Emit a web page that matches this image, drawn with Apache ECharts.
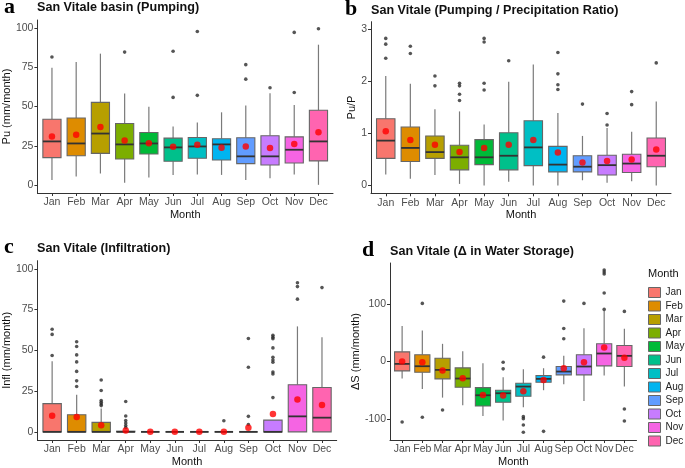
<!DOCTYPE html>
<html>
<head>
<meta charset="utf-8">
<script src="https://cdn.jsdelivr.net/npm/echarts@6/dist/echarts.min.js"></script>
<style>html,body{margin:0;padding:0;background:#fff}#c{width:685px;height:468px}</style>
</head>
<body>
<div id="c"></div>
<script>
const months = ['Jan','Feb','Mar','Apr','May','Jun','Jul','Aug','Sep','Oct','Nov','Dec'];
const palette = ['#F8766D','#DE8C00','#B79F00','#7CAE00','#00BA38','#00C08B','#00BFC4','#00B4F0','#619CFF','#C77CFF','#F564E3','#FF64B0'];

// Panel a: Pumping (mm/month)
const aLow  = [3.2, 5.5, 7.4, 1.5, 4.8, 6.5, 6.7, 6.5, 3.2, 4.4, 6.7, 0.2];
const aQ1   = [17.5, 18.7, 20.2, 16.6, 19.8, 15.2, 17.1, 16.0, 13.7, 12.8, 14.1, 15.4];
const aMed  = [27.8, 26.5, 32.8, 25.9, 26.5, 24.0, 24.6, 25.9, 18.3, 18.3, 22.5, 27.8];
const aQ3   = [41.9, 42.7, 52.6, 39.2, 33.5, 29.9, 30.3, 29.5, 30.1, 31.4, 30.7, 47.6];
const aHigh = [74.7, 78.3, 83.6, 58.3, 49.9, 37.3, 39.8, 46.3, 50.7, 58.5, 50.9, 89.3];
const aMean = [30.9, 32.0, 37.0, 28.4, 26.7, 24.4, 25.7, 23.8, 24.6, 23.6, 26.1, 33.7];
const aOut  = [[0,81.5],[3,84.6],[5,85.1],[5,55.8],[6,97.7],[6,57.1],[8,76.6],[8,67.4],[9,61.9],[10,97.1],[10,58.9],[11,99.4]];

// Panel b: Pumping / Precipitation ratio
const bLow  = [0.21, 0.13, 0.20, 0.03, 0.00, 0.07, 0.00, 0.00, 0.10, 0.05, 0.08, 0.00];
const bQ1   = [0.52, 0.46, 0.52, 0.30, 0.40, 0.30, 0.38, 0.26, 0.26, 0.20, 0.25, 0.36];
const bMed  = [0.86, 0.72, 0.64, 0.54, 0.54, 0.57, 0.73, 0.40, 0.36, 0.39, 0.42, 0.57];
const bQ3   = [1.28, 1.12, 0.95, 0.77, 0.88, 1.01, 1.24, 0.75, 0.57, 0.58, 0.60, 0.91];
const bHigh = [2.10, 1.95, 1.46, 1.42, 1.17, 1.99, 2.32, 1.39, 0.95, 1.10, 1.03, 1.61];
const bMean = [1.04, 0.87, 0.78, 0.64, 0.72, 0.78, 0.87, 0.63, 0.44, 0.47, 0.50, 0.69];
const bOut  = [[0,2.82],[0,2.71],[0,2.44],[1,2.67],[1,2.53],[2,2.10],[2,1.91],[3,1.96],[3,1.91],[3,1.75],[3,1.63],
               [4,2.82],[4,2.75],[4,1.96],[4,1.83],[5,2.39],[7,2.55],[7,2.14],[7,1.93],[7,1.84],[8,1.56],[9,1.38],[9,1.16],
               [10,1.80],[10,1.55],[11,2.35]];

// Panel c: Infiltration (mm/month)
const cLow  = [0, 0, 0, 0, 0, 0, 0, 0, 0, 0, 0, 0];
const cQ1   = [0, 0, 0, 0, 0, 0, 0, 0, 0, 0, 0, 0];
const cMed  = [0, 0, 0, 0, 0, 0, 0, 0, 0, 0, 9.5, 8.7];
const cQ3   = [17.3, 10.5, 5.8, 0.4, 0, 0, 0, 0, 0, 7.2, 28.9, 27.2];
const cHigh = [43.3, 22.7, 14.4, 0.4, 0, 0, 0, 0, 0, 7.2, 64.7, 58.1];
const cMean = [9.9, 9.1, 4.1, 0.8, 0, 0, 0, 0.1, 2.5, 10.9, 19.8, 16.5];
const cOut  = [[0,62.9],[0,59.8],[0,46.8],
               [1,55.3],[1,52.4],[1,47.2],[1,42.9],[1,37.1],[1,31.3],[1,27.8],
               [2,31.8],[2,25.4],[2,19.2],[2,18.1],[2,17.1],[2,16.1],
               [3,18.6],[3,9.7],[3,7.0],[3,5.4],[3,3.9],[3,2.7],
               [7,6.8],[8,57.3],[8,39.6],[8,9.5],[8,4.5],
               [9,59.2],[9,58.1],[9,57.1],[9,51.5],[9,45.8],[9,44.1],[9,42.7],[9,36.7],[9,35.5],[9,21.0],
               [10,91.5],[10,89.1],[10,81.4],[11,88.5]];

// Panel d: change in water storage (mm/month)
const dLow  = [-29.7, -47.8, -63.0, -76.4, -95.0, -103.0, -79.9, -50.1, -39.7, -68.8, -24.5, -43.7];
const dQ1   = [-16.3, -18.7, -30.3, -44.9, -77.6, -71.1, -60.6, -36.2, -23.3, -23.3, -7.6, -8.7];
const dMed  = [-4.1, -8.2, -14.6, -29.7, -58.9, -55.4, -43.7, -30.3, -17.5, -8.7, 14.0, 9.9];
const dQ3   = [16.9, 11.7, 5.8, -11.1, -45.5, -50.1, -37.9, -24.5, -8.7, 11.7, 30.9, 28.0];
const dHigh = [61.8, 54.2, 30.9, 18.1, -2.9, -27.4, -13.4, -11.7, 9.9, 58.3, 88.0, 57.1];
const dMean = [0.0, -1.2, -15.7, -29.2, -58.3, -59.5, -51.9, -32.1, -11.7, -1.2, 24.5, 6.4];
const dOut  = [[0,-105.5],[1,101.5],[1,-97.4],[2,-84.5],[5,-1.2],[5,-12.8],
               [6,-96.2],[6,-99.7],[6,-110.8],[6,-123.6],[7,7.6],[7,-121.9],
               [8,105.5],[8,57.7],[8,39.7],[9,101.5],
               [10,159.8],[10,156.3],[10,152.8],[10,119.5],[10,91.0],
               [11,87.5],[11,-82.8],[11,-103.8]];

const SANS = 'Liberation Sans';
const SERIF = 'Liberation Serif';

function renderBox(params, api) {
  const i = api.value(0);
  const p = v => api.coord([i, v]);
  const bw = api.size([1, 0])[0] * 0.75;
  const lo = p(api.value(1)), q1 = p(api.value(2)), md = p(api.value(3)), q3 = p(api.value(4)), hi = p(api.value(5));
  const cx = lo[0];
  return {
    type: 'group',
    children: [
      {type: 'line', shape: {x1: cx, y1: hi[1], x2: cx, y2: q3[1]}, style: {stroke: '#7a7a7a', lineWidth: 1.2}},
      {type: 'line', shape: {x1: cx, y1: q1[1], x2: cx, y2: lo[1]}, style: {stroke: '#7a7a7a', lineWidth: 1.2}},
      {type: 'rect', shape: {x: cx - bw / 2, y: q3[1], width: bw, height: q1[1] - q3[1]},
       style: {fill: palette[i], stroke: '#666', lineWidth: 1.1}},
      {type: 'line', shape: {x1: cx - bw / 2, y1: md[1], x2: cx + bw / 2, y2: md[1]}, style: {stroke: '#333', lineWidth: 1.8}}
    ]
  };
}

function boxData(lo, q1, md, q3, hi) {
  return months.map((m, i) => [i, lo[i], q1[i], md[i], q3[i], hi[i]]);
}

const grids = [
  {left: 36, top: 20, width: 297, height: 173},
  {left: 371, top: 21.7, width: 300, height: 171.6},
  {left: 36.7, top: 260.7, width: 300, height: 179.3},
  {left: 390, top: 263, width: 246.5, height: 177}
];

const monthIdx = months.map((m, i) => i);
function xAxis(g) {
  return {
    type: 'value', gridIndex: g, min: -0.6, max: 11.6,
    axisLine: {show: true, onZero: false, lineStyle: {color: '#333', width: 1}},
    axisTick: {show: true, length: 3, customValues: monthIdx, lineStyle: {color: '#333'}},
    axisLabel: {customValues: monthIdx, formatter: v => months[Math.round(v)], fontSize: 10.5, color: '#4d4d4d', margin: 4, fontFamily: SANS},
    splitLine: {show: false},
    name: 'Month', nameLocation: 'middle', nameGap: 16,
    nameTextStyle: {fontSize: 11, color: '#111', fontFamily: SANS}
  };
}
function yAxis(g, min, max, ticks, name, gap) {
  return {
    type: 'value', gridIndex: g, min: min, max: max,
    axisLine: {show: true, onZero: false, lineStyle: {color: '#333', width: 1}},
    axisTick: {show: true, length: 3, customValues: ticks, lineStyle: {color: '#333'}},
    axisLabel: {customValues: ticks, fontSize: 10.5, color: '#4d4d4d', margin: 4, fontFamily: SANS},
    splitLine: {show: false},
    name: name, nameLocation: 'middle', nameGap: gap, nameRotate: 90,
    nameTextStyle: {fontSize: 11, color: '#111', fontFamily: SANS}
  };
}

const series = [];
function addPanel(g, lo, q1, md, q3, hi, mean, out, perMonth) {
  if (perMonth) {
    months.forEach((m, i) => {
      series.push({type: 'custom', name: m, xAxisIndex: g, yAxisIndex: g, renderItem: renderBox,
        itemStyle: {color: palette[i]},
        encode: {x: 0, y: [1, 2, 3, 4, 5]},
        data: [[i, lo[i], q1[i], md[i], q3[i], hi[i]]]});
    });
  } else {
    series.push({type: 'custom', name: 'box' + g, xAxisIndex: g, yAxisIndex: g, renderItem: renderBox,
      encode: {x: 0, y: [1, 2, 3, 4, 5]}, data: boxData(lo, q1, md, q3, hi)});
  }
  series.push({type: 'scatter', name: 'out' + g, xAxisIndex: g, yAxisIndex: g, data: out,
    symbolSize: 3.6, itemStyle: {color: '#2b2b2b'}, z: 3});
  series.push({type: 'scatter', name: 'mean' + g, xAxisIndex: g, yAxisIndex: g,
    data: mean.map((v, i) => [i, v]), symbolSize: 6.5, itemStyle: {color: '#FF0000'}, z: 4});
}
addPanel(0, aLow, aQ1, aMed, aQ3, aHigh, aMean, aOut, false);
addPanel(1, bLow, bQ1, bMed, bQ3, bHigh, bMean, bOut, false);
addPanel(2, cLow, cQ1, cMed, cQ3, cHigh, cMean, cOut, false);
addPanel(3, dLow, dQ1, dMed, dQ3, dHigh, dMean, dOut, true);

const titleStyle = {fontSize: 12.6, fontWeight: 'bold', color: '#111', fontFamily: SANS};
const letterStyle = {fontSize: 22, fontWeight: 'bold', color: '#000', fontFamily: SERIF};

const option = {
  animation: false,
  backgroundColor: '#fff',
  title: [
    {text: 'a', left: 4, top: -4, padding: 0, textStyle: letterStyle},
    {text: 'b', left: 345, top: -2, padding: 0, textStyle: letterStyle},
    {text: 'c', left: 4, top: 236, padding: 0, textStyle: letterStyle},
    {text: 'd', left: 362, top: 239, padding: 0, textStyle: letterStyle},
    {text: 'San Vitale basin (Pumping)', left: 37, top: 1, padding: 0, textStyle: titleStyle},
    {text: 'San Vitale (Pumping / Precipitation Ratio)', left: 371, top: 4, padding: 0, textStyle: titleStyle},
    {text: 'San Vitale (Infiltration)', left: 37, top: 242, padding: 0, textStyle: titleStyle},
    {text: 'San Vitale (\u0394 in Water Storage)', left: 390, top: 245.5, padding: 0, textStyle: titleStyle},
    {text: 'Month', left: 648, top: 268, padding: 0, textStyle: {fontSize: 11, fontWeight: 'normal', color: '#111', fontFamily: SANS}}
  ],
  legend: {
    data: months, orient: 'vertical', left: 648, top: 287, padding: 0,
    itemWidth: 12, itemHeight: 10, itemGap: 2.5, icon: 'rect',
    itemStyle: {borderColor: '#666', borderWidth: 1},
    textStyle: {fontSize: 10, color: '#222', fontFamily: SANS, padding: [0, 0, 0, 0]},
    selectedMode: false
  },
  grid: grids,
  xAxis: [xAxis(0), xAxis(1), xAxis(2), xAxis(3)],
  yAxis: [
    yAxis(0, -5, 105, [0, 25, 50, 75, 100], 'Pu (mm/month)', 22),
    yAxis(1, -0.15, 3.14, [0, 1, 2, 3], 'Pu/P', 9),
    yAxis(2, -5, 105, [0, 25, 50, 75, 100], 'Infl (mm/month)', 21),
    yAxis(3, -137, 172, [-100, 0, 100], '\u0394S (mm/month)', 24)
  ],
  series: series
};
const chart = echarts.init(document.getElementById('c'), null, {renderer: 'canvas'});
chart.setOption(option);
</script>
</body>
</html>
